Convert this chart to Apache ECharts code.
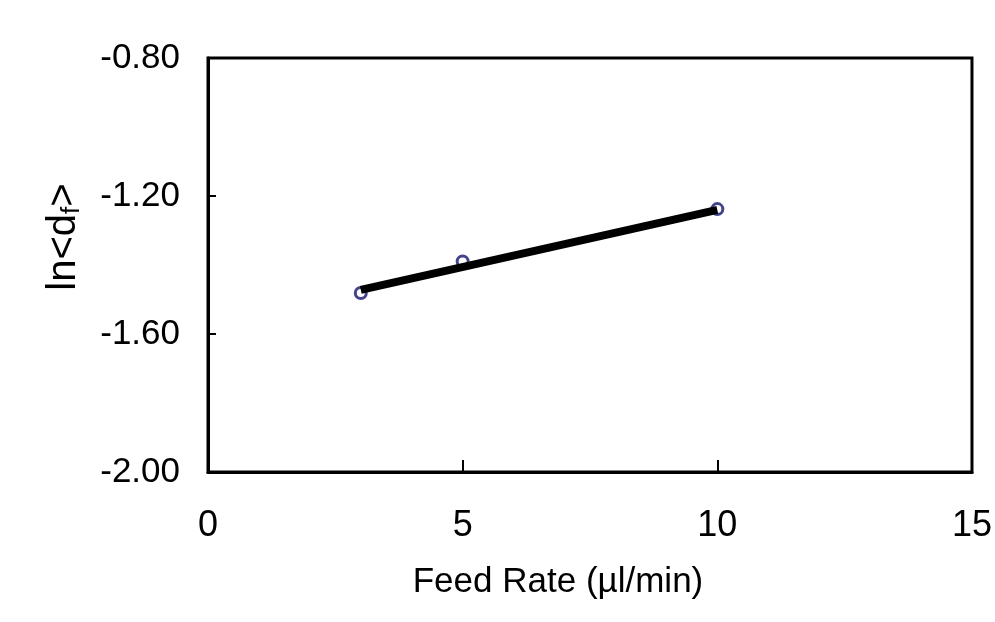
<!DOCTYPE html>
<html>
<head>
<meta charset="utf-8">
<script src="https://cdn.jsdelivr.net/npm/echarts@6/dist/echarts.min.js"></script>
<style>
  html, body { margin: 0; padding: 0; background: #ffffff; }
  #chart { width: 995px; height: 622px; }
</style>
</head>
<body>
<div id="chart"></div>
<script>
// Measured fibre diameters vs. feed rate
const feedRates = [3, 5, 10];
const lnDiameter = [-1.481, -1.390, -1.238];

// Least-squares fit line endpoints
const fitRates = [3, 10];
const fitValues = [-1.472, -1.240];

// Axis ranges
const xRange = [0, 15, 5];
const yRange = [-2.0, -0.8, 0.4];

const font = '"Liberation Sans", Arial, Helvetica, sans-serif';
const chart = echarts.init(document.getElementById('chart'), null, { renderer: 'canvas' });

chart.setOption({
  backgroundColor: '#ffffff',
  animation: false,
  grid: {
    left: 208, right: 23, top: 58, bottom: 150,
    show: true, borderColor: '#000000', borderWidth: 3, backgroundColor: 'transparent'
  },
  xAxis: {
    type: 'value',
    min: xRange[0], max: xRange[1], interval: xRange[2],
    axisLine: { show: true, lineStyle: { color: '#000', width: 3 } },
    axisTick: { show: true, inside: true, length: 12, lineStyle: { color: '#000', width: 2 } },
    axisLabel: { color: '#000', fontSize: 36, fontFamily: font, margin: 36 },
    splitLine: { show: false }
  },
  yAxis: {
    type: 'value',
    min: yRange[0], max: yRange[1], interval: yRange[2],
    axisLine: { show: true, lineStyle: { color: '#000', width: 3 } },
    axisTick: { show: true, inside: true, length: 8, lineStyle: { color: '#000', width: 2 } },
    axisLabel: {
      color: '#000', fontSize: 35, fontFamily: font, margin: 28,
      padding: [8, 0, 0, 0],
      formatter: v => v.toFixed(2)
    },
    splitLine: { show: false }
  },
  graphic: [
    {
      type: 'text',
      x: 558, y: 582,
      style: {
        text: 'Feed Rate (µl/min)',
        font: '35px ' + font,
        fill: '#000',
        align: 'center',
        verticalAlign: 'middle'
      }
    },
    {
      type: 'text',
      x: 64, y: 237,
      rotation: Math.PI / 2,
      style: {
        text: '{a|ln<d}{s|f}{a|>}',
        align: 'center',
        verticalAlign: 'middle',
        rich: {
          a: { fontSize: 40, fontFamily: font, fill: '#000', color: '#000' },
          s: { fontSize: 26, fontFamily: font, fill: '#000', color: '#000', padding: [16, 0, 0, 0] }
        }
      }
    }
  ],
  series: [
    {
      name: 'ln<df>',
      type: 'scatter',
      data: feedRates.map((x, i) => [x, lnDiameter[i]]),
      symbol: 'circle',
      symbolSize: 11,
      itemStyle: { color: '#ffffff', borderColor: '#15156e', borderWidth: 3 },
      z: 2
    },
    {
      name: 'fit',
      type: 'line',
      data: fitRates.map((x, i) => [x, fitValues[i]]),
      showSymbol: false,
      symbol: 'none',
      lineStyle: { color: '#000000', width: 8 },
      z: 3
    }
  ]
});
</script>
</body>
</html>
